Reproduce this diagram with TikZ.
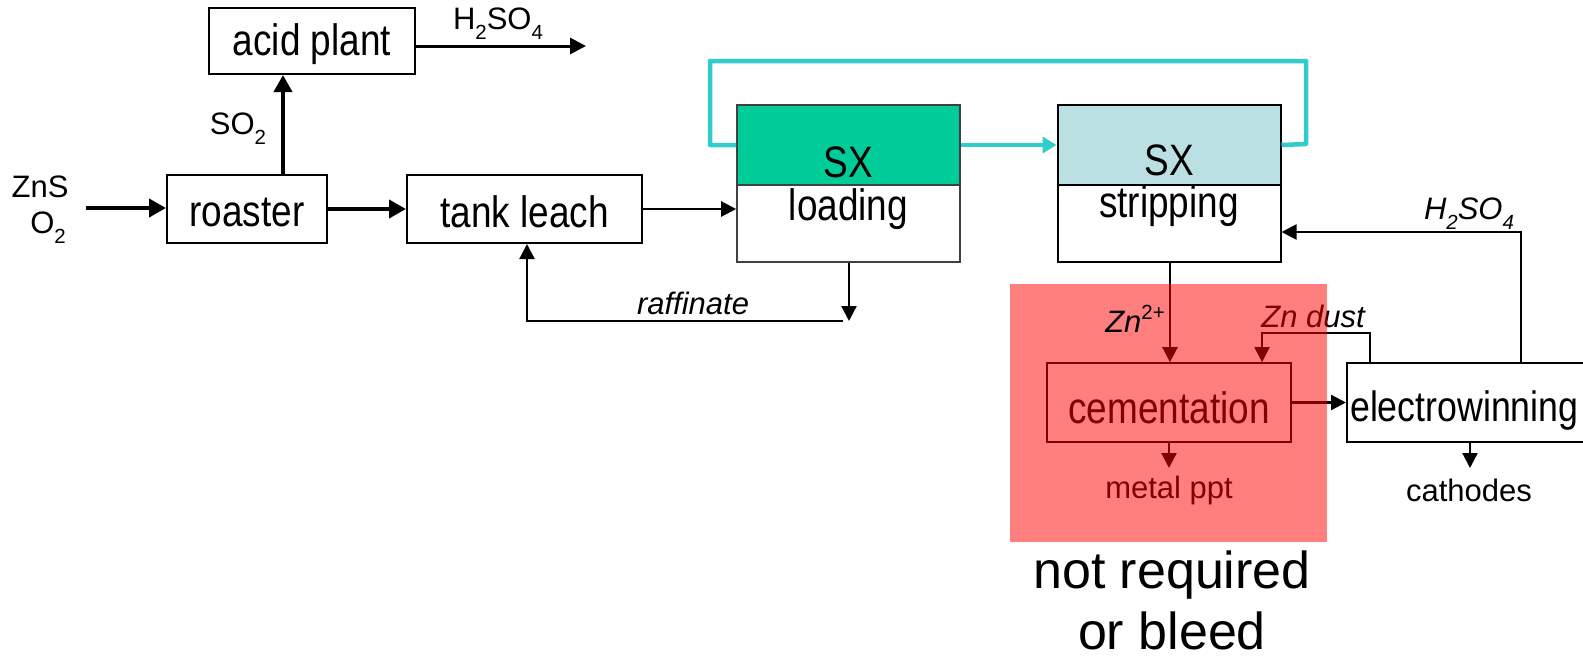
\documentclass[tikz,border=0pt]{standalone}
\usepackage{fontspec}
\usepackage{graphicx}
\setmainfont{Liberation Sans}
\newfontfamily\boxfont{Liberation Sans}[FakeStretch=0.84]
\usetikzlibrary{arrows.meta,calc}

\definecolor{sxgreen}{HTML}{00CC99}
\definecolor{sxblue}{HTML}{BAE0E3}
\definecolor{loopcyan}{HTML}{33CCCC}

% small lowered / raised indices for chemical formulas
\newcommand{\dn}[1]{\raisebox{-0.32em}{\scalebox{0.66}{#1}}}
\newcommand{\upidx}[1]{\raisebox{0.42em}{\scalebox{0.66}{#1}}}

\tikzset{
  unitbox/.style={draw, line width=2pt, inner sep=0pt,
    font=\boxfont\fontsize{44}{50}\selectfont},
  sxbox/.style={draw, line width=1.6pt, inner sep=0pt,
    minimum width=223pt},
  boxtext/.style={inner sep=0pt, font=\boxfont\fontsize{44}{50}\selectfont},
  lbl/.style={inner sep=0pt, font=\fontsize{31}{36}\selectfont},
  ilbl/.style={inner sep=0pt, font=\fontsize{31}{36}\selectfont\itshape},
  arr/.style={line width=2.3pt, -{Triangle[length=15pt,width=15pt]}},
  thickarr/.style={line width=4pt, -{Triangle[length=17pt,width=18pt]}},
  loop/.style={line width=4.5pt, loopcyan, line join=round},
}

\begin{document}
\begin{tikzpicture}[x=1pt,y=-1pt]
\useasboundingbox (0,0) rectangle (1583,659);
\clip (0,0) rectangle (1583,659);

% ---- process units (text set slightly low, as in the flowsheet) ----
\node[unitbox, minimum width=206pt, minimum height=66pt] (acid) at (312,41) {};
\node[boxtext] (acidt) at (312,44) {acid plant};
\node[unitbox, minimum width=160pt, minimum height=68pt] (roaster) at (247,209) {};
\node[boxtext] (roastert) at (247,212) {roaster};
\node[unitbox, minimum width=235pt, minimum height=68pt] (tank) at (524.5,209) {};
\node[boxtext] (tankt) at (524.5,212) {tank leach};

\node[sxbox, draw=black!75, fill=sxgreen, minimum height=80pt] (ltop) at (848.5,145) {};
\node[sxbox, draw=black!75, minimum height=77pt] (lbot) at (848.5,223.5) {};
\node[boxtext] (ltopt) at (848.5,162) {SX};
\node[boxtext] (lbott) at (848.5,209) {loading};

\node[sxbox, line width=2pt, fill=sxblue, minimum height=80pt] (stop) at (1169,145) {};
\node[sxbox, line width=2pt, minimum height=77pt] (sbot) at (1169,223.5) {};
\node[boxtext] (stopt) at (1169,160) {SX};
\node[boxtext] (sbott) at (1169,206) {stripping};

\node[unitbox, line width=1.6pt, minimum width=244pt, minimum height=79pt] (cem) at (1169,402.5) {};
\node[boxtext] (cemt) at (1169,408) {cementation};
\node[unitbox, minimum width=253pt, minimum height=79pt] (ew) at (1473.5,402.5) {};
\node[boxtext, font=\boxfont\fontsize{42.5}{50}\selectfont, anchor=west] (ewt) at (1350,411) {electrowinning};

% ---- feed and roaster streams ----
\node[lbl] (zns) at (40,187) {ZnS};
\node[lbl] (o2) at (48,228) {O\dn{2}};
\coordinate (feed) at (86,208);
\draw[thickarr] (feed) -- (feed -| roaster.west);
\draw[thickarr] (roaster.east) -- (tank.west);

\coordinate (so2x) at (283,0);
\draw[thickarr] (roaster.north -| so2x) -- (acid.south -| so2x);
\node[lbl] (so2) at (238,129) {SO\dn{2}};

\coordinate (acidout) at (586,46);
\draw[line width=3pt, -{Triangle[length=16pt,width=16pt]}] (acidout -| acid.east) -- (acidout);
\node[lbl] (h2so4a) at (498,24) {H\dn{2}SO\dn{4}};

% ---- leach liquor to SX ----
\draw[arr] (tank.east) -- (tank.east -| lbot.west);

% raffinate return
\coordinate (rafdown) at (849,321);
\draw[arr] (lbot.south -| rafdown) -- (rafdown);
\coordinate (rafL) at (843,321);
\coordinate (rafx) at (527,0);
\draw[arr] (rafL) -| (tank.south -| rafx);
\node[ilbl] (raf) at (693,303) {raffinate};

% ---- organic circuit ----
\coordinate (loopL) at (710,61);
\coordinate (loopR) at (1306,144);
\draw[loop] (ltop.west) -| (loopL) -| (loopR) -- (stop.east);
\draw[loop, -{Triangle[length=14pt,width=16pt]}] (ltop.east) -- (stop.west);

% ---- strip acid from electrowinning ----
\coordinate (acidin) at (1521,232);
\draw[arr] (ew.north -| acidin) |- (sbot.east |- acidin);
\node[ilbl] (h2so4b) at (1469,214) {H\dn{2}SO\dn{4}};

% ---- cementation ----
\coordinate (znx) at (1170,0);
\draw[arr] (sbot.south -| znx) -- (cem.north -| znx);

\coordinate (dustR) at (1370,333);
\coordinate (dustL) at (1262,0);
\draw[line width=1.8pt, -{Triangle[length=15pt,width=15pt]}] (ew.north -| dustR) |- (dustL |- dustR) -- (cem.north -| dustL);
\node[ilbl] (dust) at (1313,316) {Zn dust};

\draw[arr] (cem.east) -- (ew.west);

\coordinate (ppt) at (1169,468);
\draw[arr] (cem.south) -- (ppt);
\node[lbl] (pptt) at (1169,490) {metal ppt};

\coordinate (cath) at (1470,468);
\draw[arr] (ew.south -| cath) -- (cath);
\node[lbl] (catht) at (1469,490) {cathodes};

% ---- optional section shading ----
\node[fill=red, fill opacity=0.5, inner sep=0pt, minimum width=317pt, minimum height=258pt] (bleedzone) at (1168.5,413) {};
\node[ilbl] (zn2) at (1135,319) {Zn\upidx{\upshape 2+}};

\node[inner sep=0pt, align=center, font=\fontsize{52}{61}\selectfont] (note) at (1172,600) {not required\\or bleed};
\end{tikzpicture}
\end{document}
